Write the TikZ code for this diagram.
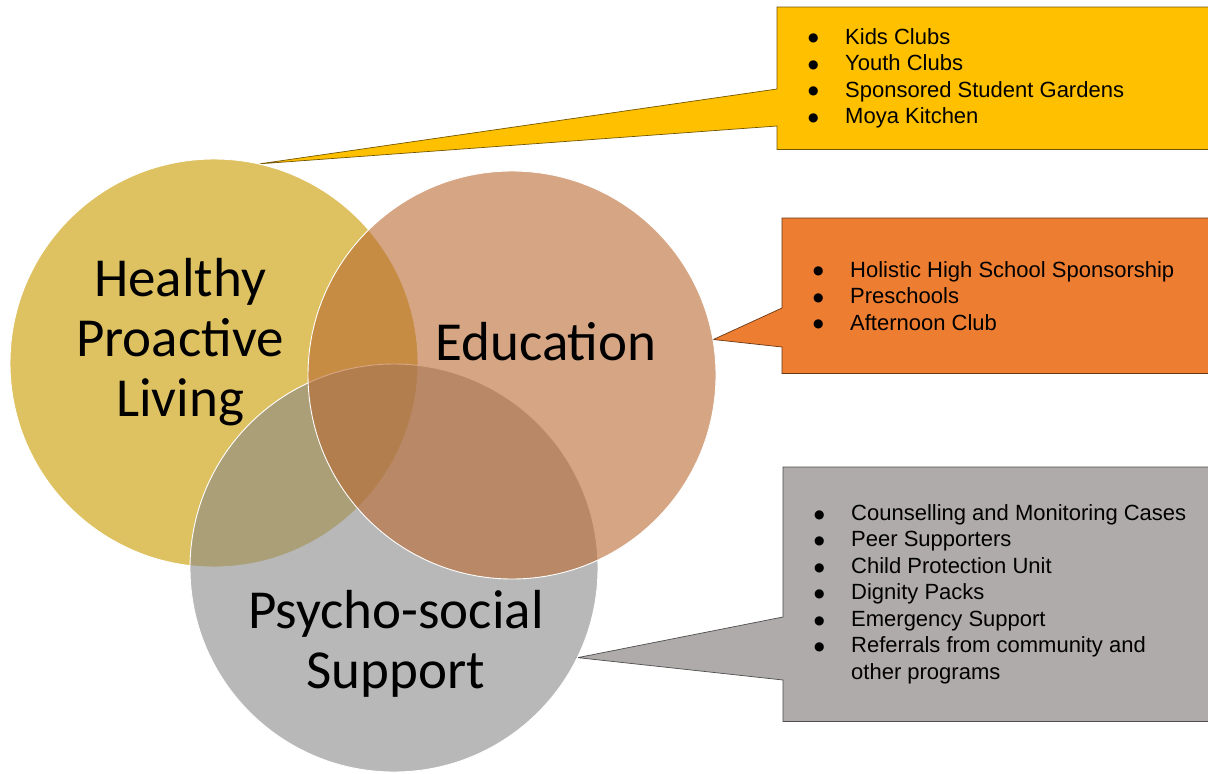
\documentclass[tikz,border=0pt]{standalone}
\usepackage{fontspec}
\setmainfont{Liberation Sans}
\newfontfamily\venfont{Carlito}
\newfontfamily\dotfont{DejaVu Sans}
\usetikzlibrary{positioning}

\pgfdeclarelayer{back}
\pgfsetlayers{back,main}

\definecolor{hplfill}{RGB}{222,193,96}
\definecolor{edufill}{RGB}{185,105,50}
\definecolor{psyfill}{RGB}{137,137,137}
\definecolor{hplcall}{RGB}{255,192,0}
\definecolor{educall}{RGB}{237,125,49}
\definecolor{psycall}{RGB}{175,171,171}

\newcommand{\itm}[1]{\makebox[37pt][l]{\raisebox{2.3pt}{\dotfont\fontsize{12}{14}\selectfont ●}}#1}

\tikzset{
  venn/.style={circle, minimum size=408pt, inner sep=0pt, draw=white, line width=0.9pt},
  venntext/.style={font=\venfont\fontsize{55}{60}\selectfont, align=center},
  calloutbox/.style={rectangle, anchor=north west, inner sep=0pt},
  itemlist/.style={anchor=west, inner sep=0pt, align=left, font=\fontsize{22}{26.5}\selectfont},
  callout/.style={fill=#1, draw=#1!45!black, line width=0.7pt}
}

\begin{document}
\begin{tikzpicture}[x=1pt, y=-1pt]
  \useasboundingbox (0,0) rectangle (1208,774);

  % the three circles
  \node[venn, fill=hplfill] (hpl) at (214,363) {};
  \node[venn, fill=psyfill, fill opacity=0.6] (psy) at (394,568) {};
  \node[venn, fill=edufill, fill opacity=0.6] (edu) at (512,375) {};

  % circle labels
  \node[venntext] (hpltext) at (180,342) {Healthy\\Proactive\\Living};
  \node[venntext] (edutext) at (546,342) {Education};
  \node[venntext] (psytext) at (396,644) {Psycho-social\\Support};

  % callout boxes
  \node[calloutbox, minimum width=431pt, minimum height=142pt] (hplbox) at (777,7) {};
  \node[calloutbox, minimum width=426pt, minimum height=155pt] (edubox) at (782,218) {};
  \node[calloutbox, minimum width=425pt, minimum height=254pt] (psybox) at (783,467) {};

  % lists
  \node[itemlist] (hpllist) at ([xshift=31pt]hplbox.west)
    {\itm{Kids Clubs}\\ \itm{Youth Clubs}\\ \itm{Sponsored Student Gardens}\\ \itm{Moya Kitchen}};
  \node[itemlist] (edulist) at ([xshift=31pt]edubox.west)
    {\itm{Holistic High School Sponsorship}\\ \itm{Preschools}\\ \itm{Afternoon Club}};
  \node[itemlist] (psylist) at ([xshift=31pt]psybox.west)
    {\itm{Counselling and Monitoring Cases}\\ \itm{Peer Supporters}\\ \itm{Child Protection Unit}\\
     \itm{Dignity Packs}\\ \itm{Emergency Support}\\ \itm{Referrals from community and}\\
     \hspace*{37pt}other programs};

  \begin{pgfonlayer}{back}
    \fill[white] (0,0) rectangle (1208,774);
    % callout shapes
    \filldraw[callout=hplcall] (hplbox.north west) -- (hplbox.north east) -- (hplbox.south east)
      -- (hplbox.south west) -- ([yshift=-119pt]hplbox.north west) -- (hpl.77)
      -- ([yshift=-82pt]hplbox.north west) -- cycle;
    \filldraw[callout=educall] (edubox.north west) -- (edubox.north east) -- (edubox.south east)
      -- (edubox.south west) -- ([yshift=-129pt]edubox.north west) -- (edu.10)
      -- ([yshift=-90pt]edubox.north west) -- cycle;
    \filldraw[callout=psycall] (psybox.north west) -- (psybox.north east) -- (psybox.south east)
      -- (psybox.south west) -- ([yshift=-213pt]psybox.north west) -- (psy.-26)
      -- ([yshift=-150pt]psybox.north west) -- cycle;
  \end{pgfonlayer}
\end{tikzpicture}
\end{document}
